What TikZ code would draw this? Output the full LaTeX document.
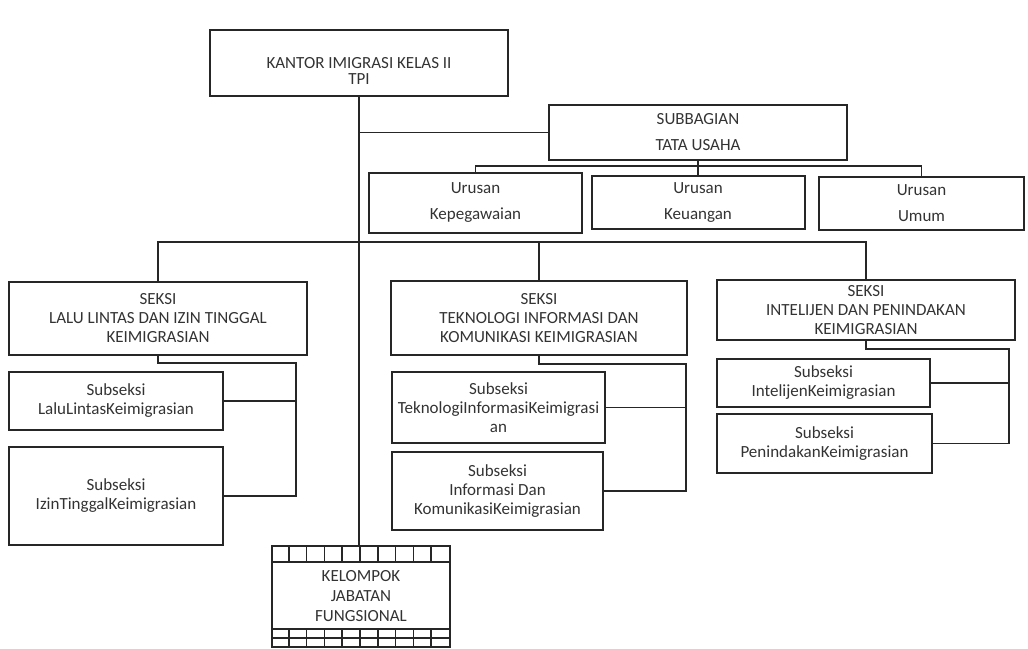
\documentclass[tikz,border=0pt]{standalone}
\usepackage{fontspec}
\setmainfont{Carlito}
\usepackage{tikz}

\tikzset{
  kotak/.style={draw=black!85, line width=2pt, align=center, inner sep=0pt,
    font=\fontsize{17}{19}\selectfont, text=black!80},
  garis/.style={draw=black!85, line width=1.6pt}
}

\begin{document}
\begin{tikzpicture}[x=1pt, y=-1pt]
        \useasboundingbox (0,0) rectangle (1028,648);

        % Pimpinan
        \node[kotak, minimum width=298pt, minimum height=66pt] (kantor) at (359,63) {\rule{0pt}{27pt}KANTOR IMIGRASI KELAS II\\[-3pt]TPI};

        % Tata usaha
        \node[kotak, minimum width=298pt, minimum height=55pt] (subbag) at (698,132.5) {SUBBAGIAN\\[7pt]TATA USAHA};
        \node[kotak, minimum width=213pt, minimum height=60pt] (urKep) at (475.5,203) {Urusan\\[7pt]Kepegawaian};
        \node[kotak, minimum width=213pt, minimum height=53pt] (urKeu) at (698,202.5) {Urusan\\[7pt]Keuangan};
        \node[kotak, minimum width=205pt, minimum height=53pt] (urUmum) at (921.5,203.5) {Urusan\\[7pt]Umum};

        % Seksi
        \node[kotak, minimum width=298pt, minimum height=73pt] (seksiLalu) at (158,318.5) {SEKSI\\LALU LINTAS DAN IZIN TINGGAL\\KEIMIGRASIAN};
        \node[kotak, minimum width=296pt, minimum height=74pt] (seksiTik) at (539,318) {SEKSI\\TEKNOLOGI INFORMASI DAN\\KOMUNIKASI KEIMIGRASIAN};
        \node[kotak, minimum width=298pt, minimum height=60pt] (seksiInt) at (866,310) {SEKSI\\INTELIJEN DAN PENINDAKAN\\KEIMIGRASIAN};

        % Subseksi
        \node[kotak, minimum width=214pt, minimum height=58pt] (subLalu) at (116,401) {Subseksi\\LaluLintasKeimigrasian};
        \node[kotak, minimum width=214pt, minimum height=98pt] (subIzin) at (116,496) {Subseksi\\IzinTinggalKeimigrasian};
        \node[kotak, minimum width=213pt, minimum height=71pt] (subTek) at (498.5,407.5) {Subseksi\\TeknologiInformasiKeimigrasi\\an};
        \node[kotak, minimum width=211pt, minimum height=78pt] (subInfo) at (497.5,491) {Subseksi\\Informasi Dan\\KomunikasiKeimigrasian};
        \node[kotak, minimum width=213pt, minimum height=48pt] (subIntel) at (823.5,383) {Subseksi\\IntelijenKeimigrasian};
        \node[kotak, minimum width=215pt, minimum height=59pt] (subPenindak) at (824.5,443.5) {Subseksi\\PenindakanKeimigrasian};

        % Jabatan fungsional
        \node[kotak, minimum width=178pt, minimum height=101pt] (kelompok) at (361,596.5) {KELOMPOK\\[1pt]JABATAN\\[1pt]FUNGSIONAL};
        \foreach \i in {1,...,9}{
            \draw[garis] ([xshift=\i*17.8pt]kelompok.north west) -- ++(0,17);
            \draw[garis] ([xshift=\i*17.8pt]kelompok.south west) -- ++(0,-19);
        }
        \draw[garis] ([yshift=-17pt]kelompok.north west) -- ([yshift=-17pt]kelompok.north east);
        \draw[garis] ([yshift=19pt]kelompok.south west) -- ([yshift=19pt]kelompok.south east);
        \draw[garis] ([yshift=10pt]kelompok.south west) -- ([yshift=10pt]kelompok.south east);

        % Garis komando
        \draw[garis] (kantor.south) -- (kantor.south |- kelompok.north);
        \draw[garis] (kantor.south |- subbag.west) -- (subbag.west);

        \coordinate (busTU) at (698,166);
        \draw[garis] (subbag.south) -- (busTU) -- (urKeu.north);
        \draw[garis] (urKep.north) |- (busTU) -| (urUmum.north);

        \coordinate (busSeksi) at (359,242);
        \draw[garis] (seksiLalu.north) |- (busSeksi) -| (seksiInt.north);
        \draw[garis] (seksiTik.north) -- (seksiTik.north |- busSeksi);

        \coordinate (llSudut) at (296,363);
        \draw[garis] (seksiLalu.south) |- (llSudut) |- (subIzin.east);
        \draw[garis] (subLalu.east) -- (subLalu.east -| llSudut);

        \coordinate (tkSudut) at (686,364);
        \draw[garis] (seksiTik.south) |- (tkSudut) |- (subInfo.east);
        \draw[garis] (subTek.east) -- (subTek.east -| tkSudut);

        \coordinate (inSudut) at (1009,349);
        \draw[garis] (seksiInt.south) |- (inSudut) |- (subPenindak.east);
        \draw[garis] (subIntel.east) -- (subIntel.east -| inSudut);
\end{tikzpicture}
\end{document}
